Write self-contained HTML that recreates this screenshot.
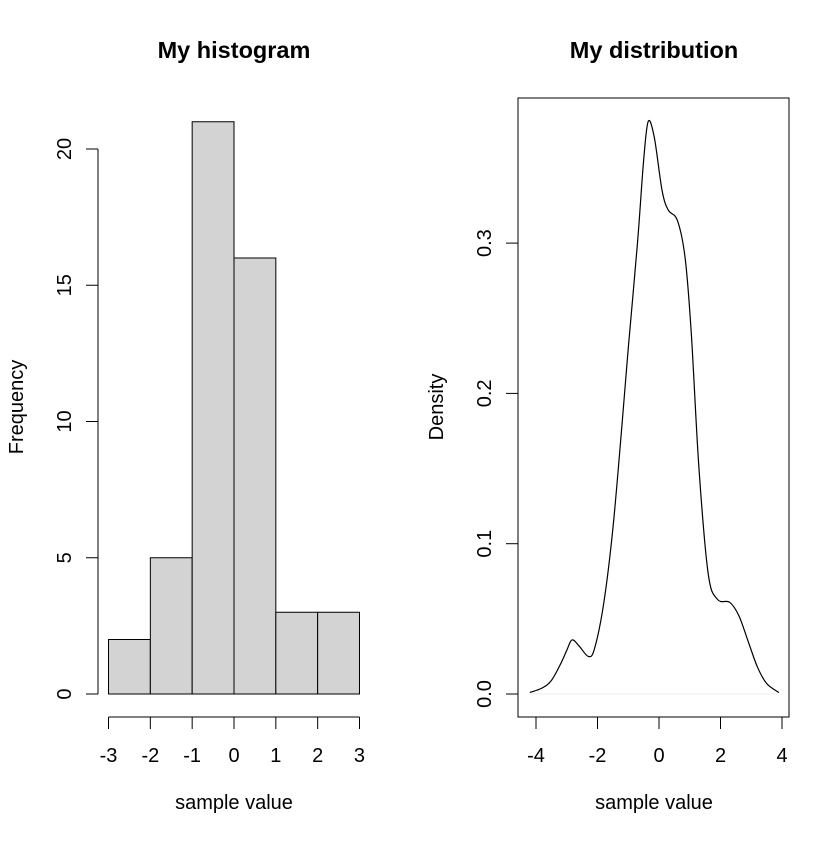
<!DOCTYPE html>
<html><head><meta charset="utf-8"><style>
body{margin:0;background:#fff}
svg text{font-family:"Liberation Sans",Arial,sans-serif;fill:#000}
</style></head><body>
<svg id="c" width="840" height="840" viewBox="0 0 840 840">
<text x="234" y="58" font-size="23.5" font-weight="bold" text-anchor="middle">My histogram</text>
<text x="654" y="58" font-size="23.5" font-weight="bold" text-anchor="middle">My distribution</text>
<g id="hist"></g>
<g id="dens"></g>
</svg>
<script>
const histBreaks=[-3,-2,-1,0,1,2,3];
const histCounts=[2,5,21,16,3,3];
const histYTicks=[0,5,10,15,20];
const densX=[-4.2,-3.8,-3.5,-3.2,-3.0,-2.83,-2.6,-2.3,-2.1,-1.8,-1.5,-1.2,-1.0,-0.7,-0.5,-0.35,-0.15,0.1,0.3,0.6,0.85,1.05,1.3,1.6,1.9,2.3,2.6,2.9,3.2,3.5,3.9];
const densY=[0.001,0.004,0.009,0.02,0.029,0.036,0.032,0.025,0.03,0.06,0.11,0.18,0.23,0.30,0.355,0.381,0.37,0.335,0.322,0.315,0.29,0.24,0.15,0.08,0.063,0.061,0.052,0.035,0.018,0.007,0.001];
const densXTicks=[-4,-2,0,2,4];
const densYTicks=[0,0.1,0.2,0.3];
const NS="http://www.w3.org/2000/svg";
const FS=20;
function mk(p,t,a,txt){const e=document.createElementNS(NS,t);for(const k in a)e.setAttribute(k,a[k]);if(txt!==undefined)e.textContent=txt;p.appendChild(e);return e;}
const H=document.getElementById('hist');
const hx=v=>234+v*41.83, hy=v=>694-v*27.25;
histCounts.forEach((c,i)=>{
 const r=mk(H,'rect',{x:hx(histBreaks[i]),y:hy(c),width:hx(histBreaks[i+1])-hx(histBreaks[i]),height:hy(0)-hy(c),fill:'#d3d3d3',stroke:'#000','stroke-width':1});
 
 
});
mk(H,'line',{x1:98,x2:98,y1:hy(0),y2:hy(20),stroke:'#000'});
histYTicks.forEach(v=>{mk(H,'line',{x1:86,x2:98,y1:hy(v),y2:hy(v),stroke:'#000'});
 const t=mk(H,'text',{x:71,y:hy(v),'font-size':FS,'text-anchor':'middle',transform:`rotate(-90 71 ${hy(v)})`},String(v));
 });
mk(H,'line',{x1:hx(-3),x2:hx(3),y1:717,y2:717,stroke:'#000'});
histBreaks.forEach(v=>{mk(H,'line',{x1:hx(v),x2:hx(v),y1:717,y2:729,stroke:'#000'});
 const t=mk(H,'text',{x:hx(v),y:762,'font-size':FS,'text-anchor':'middle'},String(v));
 });
let t=mk(H,'text',{x:234,y:809,'font-size':FS,'text-anchor':'middle'},'sample value');

t=mk(H,'text',{x:23,y:407,'font-size':FS,'text-anchor':'middle',transform:'rotate(-90 23 407)'},'Frequency');

const D=document.getElementById('dens');
const dx=v=>659+v*30.75, dy=v=>694-v*1503;
mk(D,'rect',{x:518,y:98,width:271,height:619,fill:'none',stroke:'#000'});
mk(D,'line',{x1:dx(-4.2),x2:dx(3.9),y1:dy(0),y2:dy(0),stroke:'#eee'});
const P=densX.map((x,i)=>[dx(x),dy(densY[i])]);
let d=`M${P[0][0]},${P[0][1]}`;
for(let i=0;i<P.length-1;i++){const p0=P[Math.max(0,i-1)],p1=P[i],p2=P[i+1],p3=P[Math.min(P.length-1,i+2)];
 d+=` C${p1[0]+(p2[0]-p0[0])/6},${p1[1]+(p2[1]-p0[1])/6} ${p2[0]-(p3[0]-p1[0])/6},${p2[1]-(p3[1]-p1[1])/6} ${p2[0]},${p2[1]}`;}
const ln=mk(D,'path',{d:d,fill:'none',stroke:'#000','stroke-width':1.2});

densYTicks.forEach(v=>{mk(D,'line',{x1:506,x2:518,y1:dy(v),y2:dy(v),stroke:'#000'});
 const t=mk(D,'text',{x:491,y:dy(v),'font-size':FS,'text-anchor':'middle',transform:`rotate(-90 491 ${dy(v)})`},v.toFixed(1));
 });
densXTicks.forEach(v=>{mk(D,'line',{x1:dx(v),x2:dx(v),y1:717,y2:729,stroke:'#000'});
 const t=mk(D,'text',{x:dx(v),y:762,'font-size':FS,'text-anchor':'middle'},String(v));
 });
t=mk(D,'text',{x:654,y:809,'font-size':FS,'text-anchor':'middle'},'sample value');

t=mk(D,'text',{x:443,y:407,'font-size':FS,'text-anchor':'middle',transform:'rotate(-90 443 407)'},'Density');

</script>
</body></html>
